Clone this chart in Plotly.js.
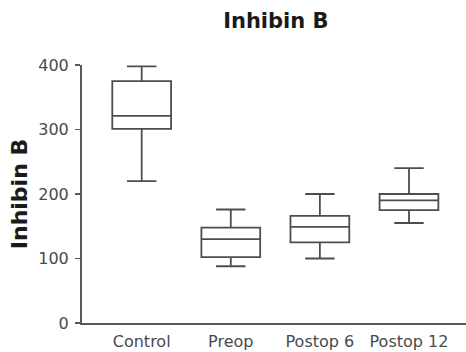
<!DOCTYPE html>
<html>
<head>
<meta charset="utf-8">
<script src="https://cdn.plot.ly/plotly-3.0.1.min.js"></script>
<style>html,body{margin:0;padding:0;background:#fff;}#chart{width:466px;height:352px;}</style>
</head>
<body>
<div id="chart"></div>
<script>
const categories = ["Control", "Preop", "Postop 6", "Postop 12"];
const lowerWhisker = [220, 88, 100, 155];
const q1Values = [301, 102, 125, 175];
const medianValues = [321, 130, 149, 190];
const q3Values = [375, 148, 166, 200];
const upperWhisker = [398, 176, 200, 240];
const yTicks = [0, 100, 200, 300, 400];

const trace = {
  type: "box",
  x: categories,
  q1: q1Values,
  median: medianValues,
  q3: q3Values,
  lowerfence: lowerWhisker,
  upperfence: upperWhisker,
  width: 0.66,
  whiskerwidth: 0.5,
  fillcolor: "#ffffff",
  line: { color: "#4d4d4d", width: 1.8 },
  boxpoints: false,
  hoverinfo: "skip",
  showlegend: false
};

const FONT = "DejaVu Sans, Liberation Sans, Arial, sans-serif";

const layout = {
  width: 466,
  height: 352,
  margin: { l: 82, r: 0, t: 65, b: 29 },
  paper_bgcolor: "#ffffff",
  plot_bgcolor: "#ffffff",
  font: { family: FONT, color: "#4a4a4a", size: 16 },
  title: {
    text: "<b>Inhibin B</b>",
    font: { family: FONT, size: 21, color: "#1a1a1a" },
    x: 0.592, xanchor: "center", y: 0.94, yanchor: "middle"
  },
  xaxis: {
    type: "category",
    range: [-0.67, 3.64],
    showline: true, linecolor: "#595959", linewidth: 2,
    ticks: "", showgrid: false, zeroline: false,
    ticklabelstandoff: 3,
    tickfont: { family: FONT, size: 16, color: "#4a4a4a" }
  },
  yaxis: {
    range: [0, 400],
    tickvals: yTicks,
    showline: true, linecolor: "#595959", linewidth: 2,
    ticks: "outside", ticklen: 5, tickwidth: 1.8, tickcolor: "#595959",
    ticklabelstandoff: 3,
    showgrid: false, zeroline: false,
    tickfont: { family: FONT, size: 16, color: "#4a4a4a" },
    title: { text: "<b>Inhibin B</b>", font: { family: FONT, size: 22, color: "#1a1a1a" }, standoff: 5 }
  }
};

Plotly.newPlot("chart", [trace], layout, { displayModeBar: false, staticPlot: true });
</script>
</body>
</html>
